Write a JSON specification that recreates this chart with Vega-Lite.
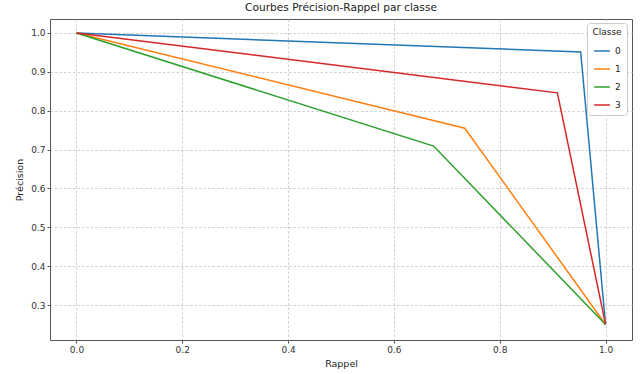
{
  "$schema": "https://vega.github.io/schema/vega-lite/v6.json",
  "autosize": {"type": "none"},
  "width": 582,
  "height": 321,
  "padding": {"left": 50, "top": 19, "right": 10, "bottom": 34},
  "background": "white",
  "title": {"text": "Courbes Précision-Rappel par classe", "fontSize": 10.6, "fontWeight": "normal", "font": "DejaVu Sans", "color": "#222", "offset": 5},
  "config": {
    "view": {"stroke": "#555", "strokeWidth": 1},
    "axis": {"labelFont": "DejaVu Sans", "titleFont": "DejaVu Sans", "labelFontSize": 9, "titleFontSize": 9.5, "titleFontWeight": "normal", "labelColor": "#333", "titleColor": "#222", "gridColor": "#d0d0d0", "gridDash": [2.5, 2], "gridOpacity": 1, "tickColor": "#555", "domain": false, "tickSize": 3}
  },
  "data": {"values": [
    {"classe": "0", "ordre": 0, "rappel": 0.0, "precision": 1.0},
    {"classe": "0", "ordre": 1, "rappel": 0.953, "precision": 0.951},
    {"classe": "0", "ordre": 2, "rappel": 1.0, "precision": 0.25},
    {"classe": "1", "ordre": 0, "rappel": 0.0, "precision": 1.0},
    {"classe": "1", "ordre": 1, "rappel": 0.734, "precision": 0.755},
    {"classe": "1", "ordre": 2, "rappel": 1.0, "precision": 0.25},
    {"classe": "2", "ordre": 0, "rappel": 0.0, "precision": 1.0},
    {"classe": "2", "ordre": 1, "rappel": 0.675, "precision": 0.709},
    {"classe": "2", "ordre": 2, "rappel": 1.0, "precision": 0.25},
    {"classe": "3", "ordre": 0, "rappel": 0.0, "precision": 1.0},
    {"classe": "3", "ordre": 1, "rappel": 0.909, "precision": 0.846},
    {"classe": "3", "ordre": 2, "rappel": 1.0, "precision": 0.25}
  ]},
  "mark": {"type": "line", "strokeWidth": 1.5, "clip": true},
  "encoding": {
    "x": {"field": "rappel", "type": "quantitative", "title": "Rappel",
      "scale": {"domain": [-0.05, 1.05], "nice": false, "zero": false},
      "axis": {"values": [0, 0.2, 0.4, 0.6, 0.8, 1.0], "format": ".1f", "titlePadding": 4}},
    "y": {"field": "precision", "type": "quantitative", "title": "Précision",
      "scale": {"domain": [0.21, 1.036], "nice": false, "zero": false},
      "axis": {"values": [0.3, 0.4, 0.5, 0.6, 0.7, 0.8, 0.9, 1.0], "format": ".1f", "titlePadding": 6}},
    "order": {"field": "ordre"},
    "color": {"field": "classe", "type": "nominal", "title": "Classe",
      "scale": {"domain": ["0", "1", "2", "3"], "range": ["#1f77b4", "#ff7f0e", "#2ca02c", "#d62728"]},
      "legend": {"orient": "none", "legendX": 537, "legendY": 4, "fillColor": "white", "strokeColor": "#ccc", "padding": 5, "cornerRadius": 3,
        "symbolType": "stroke", "symbolStrokeWidth": 1.5, "symbolSize": 250, "labelFont": "DejaVu Sans", "labelFontSize": 9, "titleFont": "DejaVu Sans", "titleFontSize": 9, "titleFontWeight": "normal", "titleAnchor": "middle", "rowPadding": 4, "labelColor": "#222", "titleColor": "#222"}}
  }
}
